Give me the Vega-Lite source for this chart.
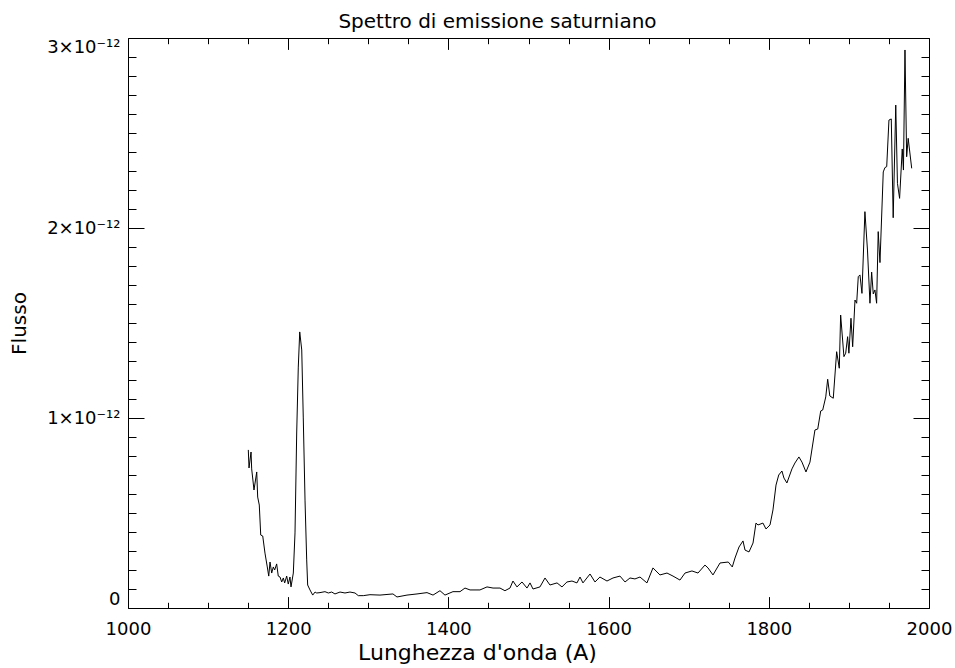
{
  "$schema": "https://vega.github.io/schema/vega-lite/v6.json",
  "width": 801,
  "height": 570,
  "autosize": "none",
  "padding": {"left": 128, "top": 38, "right": 26, "bottom": 60},
  "background": "white",
  "config": {
    "view": {"stroke": null},
    "font": "DejaVu Sans",
    "axis": {"grid": false, "domainColor": "#000", "tickColor": "#000", "labelColor": "#000", "titleColor": "#000", "labelFont": "DejaVu Sans", "titleFont": "DejaVu Sans", "labelFontSize": 18, "titleFontSize": 20, "titleFontWeight": "normal", "domainWidth": 1, "tickWidth": 1}
  },
  "title": {"text": "Spettro di emissione saturniano", "fontSize": 20, "fontWeight": "normal", "color": "#000", "font": "DejaVu Sans", "anchor": "middle", "dx": -31, "offset": 6},
  "data": {"values": [
    {"lambda": 1150.2, "flux": 0.832e-12}, {"lambda": 1151.1, "flux": 0.737e-12}, {"lambda": 1153.6, "flux": 0.821e-12}, {"lambda": 1154.4, "flux": 0.732e-12},
    {"lambda": 1157.3, "flux": 0.621e-12}, {"lambda": 1160.7, "flux": 0.716e-12}, {"lambda": 1161.9, "flux": 0.584e-12}, {"lambda": 1163.9, "flux": 0.542e-12},
    {"lambda": 1165.7, "flux": 0.384e-12}, {"lambda": 1168.2, "flux": 0.379e-12}, {"lambda": 1171.0, "flux": 0.289e-12}, {"lambda": 1173.9, "flux": 0.216e-12},
    {"lambda": 1175.7, "flux": 0.168e-12}, {"lambda": 1177.3, "flux": 0.242e-12}, {"lambda": 1179.4, "flux": 0.184e-12}, {"lambda": 1181.4, "flux": 0.216e-12},
    {"lambda": 1183.1, "flux": 0.200e-12}, {"lambda": 1185.6, "flux": 0.232e-12}, {"lambda": 1187.6, "flux": 0.168e-12}, {"lambda": 1189.8, "flux": 0.163e-12},
    {"lambda": 1191.9, "flux": 0.137e-12}, {"lambda": 1193.9, "flux": 0.158e-12}, {"lambda": 1195.6, "flux": 0.132e-12}, {"lambda": 1198.1, "flux": 0.168e-12},
    {"lambda": 1200.1, "flux": 0.126e-12}, {"lambda": 1202.2, "flux": 0.163e-12}, {"lambda": 1203.5, "flux": 0.111e-12}, {"lambda": 1206.4, "flux": 0.184e-12},
    {"lambda": 1208.5, "flux": 0.395e-12}, {"lambda": 1210.6, "flux": 0.921e-12}, {"lambda": 1212.6, "flux": 1.268e-12}, {"lambda": 1214.4, "flux": 1.453e-12},
    {"lambda": 1216.9, "flux": 1.358e-12}, {"lambda": 1218.8, "flux": 1.005e-12}, {"lambda": 1221.0, "flux": 0.568e-12}, {"lambda": 1223.1, "flux": 0.253e-12},
    {"lambda": 1224.3, "flux": 0.121e-12}, {"lambda": 1227.2, "flux": 0.095e-12}, {"lambda": 1230.6, "flux": 0.068e-12}, {"lambda": 1233.5, "flux": 0.084e-12},
    {"lambda": 1235.6, "flux": 0.079e-12}, {"lambda": 1239.7, "flux": 0.081e-12}, {"lambda": 1245.9, "flux": 0.086e-12}, {"lambda": 1250.1, "flux": 0.079e-12},
    {"lambda": 1254.3, "flux": 0.084e-12}, {"lambda": 1258.4, "flux": 0.074e-12}, {"lambda": 1264.7, "flux": 0.084e-12}, {"lambda": 1270.9, "flux": 0.079e-12},
    {"lambda": 1277.1, "flux": 0.084e-12}, {"lambda": 1283.4, "flux": 0.079e-12}, {"lambda": 1287.5, "flux": 0.065e-12}, {"lambda": 1293.7, "flux": 0.065e-12},
    {"lambda": 1302.1, "flux": 0.070e-12}, {"lambda": 1314.6, "flux": 0.068e-12}, {"lambda": 1330.8, "flux": 0.074e-12}, {"lambda": 1335.8, "flux": 0.058e-12},
    {"lambda": 1348.3, "flux": 0.068e-12}, {"lambda": 1360.8, "flux": 0.074e-12}, {"lambda": 1373.3, "flux": 0.081e-12}, {"lambda": 1380.8, "flux": 0.068e-12},
    {"lambda": 1389.5, "flux": 0.091e-12}, {"lambda": 1395.7, "flux": 0.068e-12}, {"lambda": 1405.7, "flux": 0.086e-12}, {"lambda": 1414.5, "flux": 0.086e-12},
    {"lambda": 1420.7, "flux": 0.105e-12}, {"lambda": 1427.0, "flux": 0.095e-12}, {"lambda": 1439.4, "flux": 0.095e-12}, {"lambda": 1448.2, "flux": 0.111e-12},
    {"lambda": 1455.7, "flux": 0.105e-12}, {"lambda": 1464.4, "flux": 0.105e-12}, {"lambda": 1470.6, "flux": 0.091e-12}, {"lambda": 1476.9, "flux": 0.105e-12},
    {"lambda": 1480.6, "flux": 0.142e-12}, {"lambda": 1485.6, "flux": 0.111e-12}, {"lambda": 1491.9, "flux": 0.137e-12}, {"lambda": 1498.1, "flux": 0.105e-12},
    {"lambda": 1501.9, "flux": 0.132e-12}, {"lambda": 1505.6, "flux": 0.100e-12}, {"lambda": 1514.3, "flux": 0.111e-12}, {"lambda": 1520.6, "flux": 0.158e-12},
    {"lambda": 1526.8, "flux": 0.121e-12}, {"lambda": 1535.6, "flux": 0.132e-12}, {"lambda": 1541.8, "flux": 0.111e-12}, {"lambda": 1548.0, "flux": 0.137e-12},
    {"lambda": 1554.3, "flux": 0.142e-12}, {"lambda": 1560.5, "flux": 0.132e-12}, {"lambda": 1564.3, "flux": 0.163e-12}, {"lambda": 1568.0, "flux": 0.132e-12},
    {"lambda": 1576.8, "flux": 0.179e-12}, {"lambda": 1583.0, "flux": 0.137e-12}, {"lambda": 1589.2, "flux": 0.163e-12}, {"lambda": 1598.0, "flux": 0.142e-12},
    {"lambda": 1605.5, "flux": 0.158e-12}, {"lambda": 1614.2, "flux": 0.168e-12}, {"lambda": 1620.5, "flux": 0.137e-12}, {"lambda": 1626.7, "flux": 0.158e-12},
    {"lambda": 1632.9, "flux": 0.153e-12}, {"lambda": 1639.2, "flux": 0.163e-12}, {"lambda": 1647.9, "flux": 0.132e-12}, {"lambda": 1655.4, "flux": 0.211e-12},
    {"lambda": 1664.1, "flux": 0.174e-12}, {"lambda": 1672.9, "flux": 0.184e-12}, {"lambda": 1680.4, "flux": 0.168e-12}, {"lambda": 1689.1, "flux": 0.147e-12},
    {"lambda": 1695.4, "flux": 0.184e-12}, {"lambda": 1704.1, "flux": 0.195e-12}, {"lambda": 1711.6, "flux": 0.184e-12}, {"lambda": 1720.3, "flux": 0.226e-12},
    {"lambda": 1724.1, "flux": 0.211e-12}, {"lambda": 1730.3, "flux": 0.174e-12}, {"lambda": 1739.1, "flux": 0.237e-12}, {"lambda": 1749.4, "flux": 0.242e-12},
    {"lambda": 1754.4, "flux": 0.216e-12}, {"lambda": 1757.8, "flux": 0.263e-12}, {"lambda": 1762.8, "flux": 0.321e-12}, {"lambda": 1767.8, "flux": 0.353e-12},
    {"lambda": 1770.3, "flux": 0.305e-12}, {"lambda": 1775.3, "flux": 0.295e-12}, {"lambda": 1780.3, "flux": 0.342e-12}, {"lambda": 1784.0, "flux": 0.447e-12},
    {"lambda": 1786.5, "flux": 0.437e-12}, {"lambda": 1792.7, "flux": 0.447e-12}, {"lambda": 1796.5, "flux": 0.416e-12}, {"lambda": 1801.5, "flux": 0.437e-12},
    {"lambda": 1805.2, "flux": 0.516e-12}, {"lambda": 1809.0, "flux": 0.647e-12}, {"lambda": 1812.4, "flux": 0.700e-12}, {"lambda": 1816.4, "flux": 0.721e-12},
    {"lambda": 1818.9, "flux": 0.684e-12}, {"lambda": 1822.6, "flux": 0.658e-12}, {"lambda": 1828.9, "flux": 0.732e-12}, {"lambda": 1832.6, "flux": 0.763e-12},
    {"lambda": 1837.6, "flux": 0.795e-12}, {"lambda": 1841.4, "flux": 0.768e-12}, {"lambda": 1846.4, "flux": 0.716e-12}, {"lambda": 1851.4, "flux": 0.768e-12},
    {"lambda": 1857.6, "flux": 0.937e-12}, {"lambda": 1861.1, "flux": 0.942e-12}, {"lambda": 1864.8, "flux": 1.037e-12}, {"lambda": 1867.3, "flux": 1.042e-12},
    {"lambda": 1871.1, "flux": 1.111e-12}, {"lambda": 1873.5, "flux": 1.204e-12}, {"lambda": 1876.2, "flux": 1.116e-12}, {"lambda": 1880.5, "flux": 1.104e-12},
    {"lambda": 1884.7, "flux": 1.349e-12}, {"lambda": 1888.0, "flux": 1.262e-12}, {"lambda": 1889.7, "flux": 1.542e-12}, {"lambda": 1893.8, "flux": 1.323e-12},
    {"lambda": 1896.0, "flux": 1.341e-12}, {"lambda": 1898.4, "flux": 1.428e-12}, {"lambda": 1900.0, "flux": 1.341e-12}, {"lambda": 1902.6, "flux": 1.525e-12},
    {"lambda": 1904.7, "flux": 1.375e-12}, {"lambda": 1907.6, "flux": 1.621e-12}, {"lambda": 1909.7, "flux": 1.604e-12}, {"lambda": 1911.7, "flux": 1.744e-12},
    {"lambda": 1913.8, "flux": 1.753e-12}, {"lambda": 1916.3, "flux": 1.656e-12}, {"lambda": 1920.0, "flux": 2.086e-12}, {"lambda": 1923.2, "flux": 1.884e-12},
    {"lambda": 1926.3, "flux": 1.604e-12}, {"lambda": 1928.4, "flux": 1.768e-12}, {"lambda": 1930.4, "flux": 1.653e-12}, {"lambda": 1932.5, "flux": 1.674e-12},
    {"lambda": 1934.6, "flux": 1.604e-12}, {"lambda": 1936.6, "flux": 1.981e-12}, {"lambda": 1938.8, "flux": 1.818e-12}, {"lambda": 1942.9, "flux": 2.295e-12},
    {"lambda": 1945.0, "flux": 2.318e-12}, {"lambda": 1947.2, "flux": 2.323e-12}, {"lambda": 1950.0, "flux": 2.568e-12}, {"lambda": 1952.9, "flux": 2.574e-12},
    {"lambda": 1955.3, "flux": 2.054e-12}, {"lambda": 1958.5, "flux": 2.647e-12}, {"lambda": 1960.6, "flux": 2.235e-12}, {"lambda": 1963.3, "flux": 2.156e-12},
    {"lambda": 1966.6, "flux": 2.416e-12}, {"lambda": 1968.1, "flux": 2.305e-12}, {"lambda": 1970.0, "flux": 2.937e-12}, {"lambda": 1972.1, "flux": 2.375e-12},
    {"lambda": 1974.0, "flux": 2.472e-12}, {"lambda": 1978.4, "flux": 2.314e-12}
  ]},
  "layer": [
    {
      "mark": {"type": "line", "color": "#000", "strokeWidth": 1, "clip": true},
      "encoding": {
        "x": {"field": "lambda", "type": "quantitative", "scale": {"domain": [1000, 2000], "nice": false, "zero": false},
          "axis": {"orient": "bottom", "title": "Lunghezza d'onda (A)", "titleFontSize": 22, "values": [1000, 1200, 1400, 1600, 1800, 2000], "tickSize": -11.4, "labelPadding": 24, "labelFlush": false, "format": "d", "titlePadding": 4, "titleX": 349, "titleAlign": "center"}},
        "y": {"field": "flux", "type": "quantitative", "scale": {"domain": [0, 3e-12], "nice": false, "zero": true},
          "axis": {"orient": "left", "title": "Flusso", "values": [0, 1e-12, 2e-12, 3e-12], "tickSize": -16, "labelPadding": 24, "labelFlush": true, "labelExpr": "datum.value == 0 ? '0' : round(datum.value * 1e12) + '×10⁻¹²'", "titleX": -103, "titleY": 285, "titleAngle": 270, "titleAlign": "center", "titleBaseline": "alphabetic"}}
      }
    },
    {
      "mark": {"type": "line", "opacity": 0},
      "encoding": {
        "x": {"field": "lambda", "type": "quantitative",
          "axis": {"orient": "bottom", "title": null, "labels": false, "domain": false, "values": [1050, 1100, 1150, 1250, 1300, 1350, 1450, 1500, 1550, 1650, 1700, 1750, 1850, 1900, 1950], "tickSize": -5.7}},
        "y": {"field": "flux", "type": "quantitative",
          "axis": {"orient": "left", "title": null, "labels": false, "domain": false, "values": [1e-13, 2e-13, 3e-13, 4e-13, 5e-13, 6e-13, 7e-13, 8e-13, 9e-13, 1.1e-12, 1.2e-12, 1.3e-12, 1.4e-12, 1.5e-12, 1.6e-12, 1.7e-12, 1.8e-12, 1.9e-12, 2.1e-12, 2.2e-12, 2.3e-12, 2.4e-12, 2.5e-12, 2.6e-12, 2.7e-12, 2.8e-12, 2.9e-12], "tickSize": -8}}
      }
    },
    {
      "mark": {"type": "line", "opacity": 0},
      "encoding": {
        "x": {"field": "lambda", "type": "quantitative",
          "axis": {"orient": "top", "title": null, "labels": false, "values": [1000, 1200, 1400, 1600, 1800, 2000], "tickSize": -11.4}},
        "y": {"field": "flux", "type": "quantitative",
          "axis": {"orient": "right", "title": null, "labels": false, "values": [0, 1e-12, 2e-12, 3e-12], "tickSize": -16}}
      }
    },
    {
      "mark": {"type": "line", "opacity": 0},
      "encoding": {
        "x": {"field": "lambda", "type": "quantitative",
          "axis": {"orient": "top", "title": null, "labels": false, "domain": false, "values": [1050, 1100, 1150, 1250, 1300, 1350, 1450, 1500, 1550, 1650, 1700, 1750, 1850, 1900, 1950], "tickSize": -5.7}},
        "y": {"field": "flux", "type": "quantitative",
          "axis": {"orient": "right", "title": null, "labels": false, "domain": false, "values": [1e-13, 2e-13, 3e-13, 4e-13, 5e-13, 6e-13, 7e-13, 8e-13, 9e-13, 1.1e-12, 1.2e-12, 1.3e-12, 1.4e-12, 1.5e-12, 1.6e-12, 1.7e-12, 1.8e-12, 1.9e-12, 2.1e-12, 2.2e-12, 2.3e-12, 2.4e-12, 2.5e-12, 2.6e-12, 2.7e-12, 2.8e-12, 2.9e-12], "tickSize": -8}}
      }
    }
  ],
  "resolve": {"axis": {"x": "independent", "y": "independent"}}
}
